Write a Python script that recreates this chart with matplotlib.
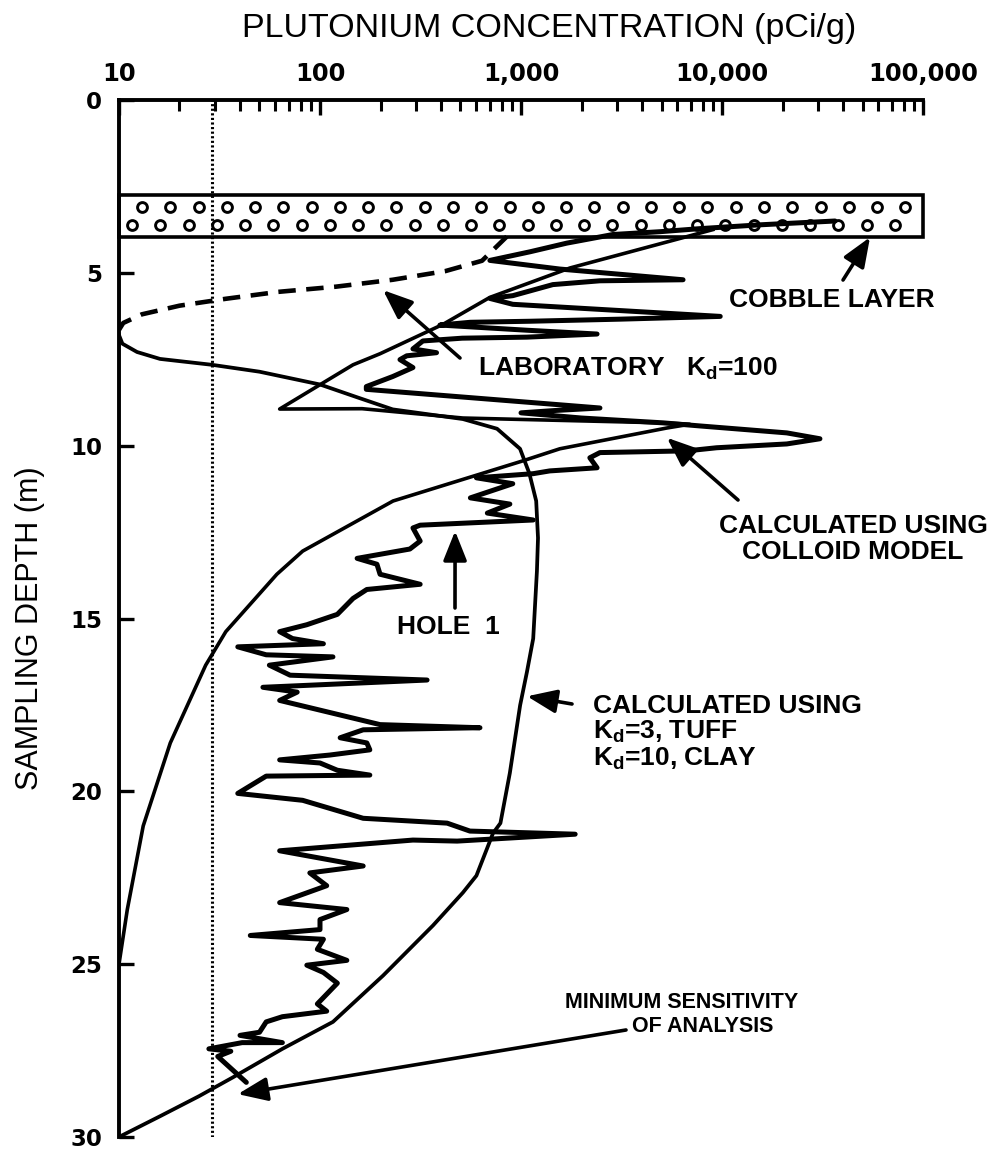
import matplotlib
matplotlib.use("Agg")
import matplotlib.pyplot as plt
import numpy as np
from matplotlib.patches import Rectangle
from matplotlib.ticker import NullFormatter, LogLocator

plt.rcParams['font.family'] = ['Liberation Sans', 'DejaVu Sans']
plt.rcParams['mathtext.default'] = 'regular'

# ---------------- data ----------------
XTICKS = [10, 100, 1000, 10000, 100000]
XTICK_LABELS = ["10", "100", "1,000", "10,000", "100,000"]
YTICKS = [0, 5, 10, 15, 20, 25, 30]
YTICK_LABELS = ["0", "5", "10", "15", "20", "25", "30"]

# Hole 1 measured profile
HOLE1_CONC = [36500, 15500, 7800, 4900, 2870, 1690, 1110, 700, 1560, 6400,
              2470, 1440, 910, 700, 910, 3100, 9800, 3100, 1110, 560,
              395, 1070, 2390, 1070, 510, 325, 290, 380, 270, 250,
              290, 230, 170, 170, 620, 2470, 1500, 1000, 2000, 5100,
              7800, 21000, 30700, 21000, 9400, 6700, 2470, 2200, 2390, 1390,
              1150, 600, 910, 560, 880, 680, 1150, 315, 290, 315,
              280, 153, 192, 199, 315, 171, 146, 122, 86, 63,
              73, 104, 39, 54, 116, 56, 71, 341, 52, 77,
              63, 112, 199, 625, 164, 126, 171, 177, 112, 63,
              100, 122, 177, 54, 39, 82, 164, 429, 557, 1860,
              481, 290, 63, 164, 89, 108, 63, 136, 100, 100,
              45, 104, 97, 136, 86, 104, 122, 97, 108, 65,
              54, 50, 40, 65, 41, 28, 36, 31, 43]
HOLE1_DEPTH = [3.50, 3.61, 3.72, 3.81, 3.89, 4.14, 4.39, 4.64, 4.89, 5.20,
               5.23, 5.34, 5.66, 5.74, 5.91, 6.09, 6.26, 6.34, 6.40, 6.43,
               6.51, 6.66, 6.77, 6.86, 6.89, 6.97, 7.20, 7.31, 7.40, 7.51,
               7.74, 8.00, 8.29, 8.37, 8.63, 8.91, 8.98, 9.05, 9.20, 9.34,
               9.43, 9.63, 9.80, 9.95, 10.06, 10.15, 10.20, 10.35, 10.64, 10.73,
               10.81, 10.93, 11.10, 11.51, 11.69, 11.95, 12.15, 12.30, 12.38, 12.76,
               12.99, 13.26, 13.43, 13.72, 14.01, 14.16, 14.42, 14.88, 15.18, 15.38,
               15.58, 15.73, 15.82, 16.05, 16.11, 16.35, 16.64, 16.78, 16.99, 17.13,
               17.37, 17.72, 18.07, 18.16, 18.22, 18.45, 18.60, 18.80, 18.95, 19.09,
               19.18, 19.39, 19.53, 19.56, 20.06, 20.26, 20.78, 20.92, 21.15, 21.24,
               21.44, 21.41, 21.72, 22.16, 22.36, 22.73, 23.22, 23.42, 23.71, 24.00,
               24.17, 24.28, 24.57, 24.89, 25.03, 25.24, 25.55, 26.15, 26.36, 26.52,
               26.67, 26.97, 27.06, 27.27, 27.27, 27.45, 27.52, 27.67, 28.42]

# Calculated using colloid model
COLLOID_CONC = [9000, 1750, 700, 409, 199, 146, 63, 162, 514, 5085,
                6900, 5300, 1560, 1020, 231, 82, 61, 34, 27, 18,
                13.2, 11, 10]
COLLOID_DEPTH = [3.75, 4.86, 5.71, 6.49, 7.34, 7.66, 8.94, 8.93, 9.20, 9.34,
                 9.38, 9.49, 10.09, 10.44, 11.60, 13.05, 13.72, 15.38, 16.35, 18.60,
                 21.00, 23.42, 25.00]

# Calculated using Kd=3 (tuff), Kd=10 (clay)
KD_CONC = [10, 10.4, 12.3, 16, 29, 50, 100, 153, 230, 514,
           760, 989, 1100, 1190, 1215, 1200, 1150, 1070, 990, 880,
           790, 726, 600, 514, 365, 206, 116, 65, 37, 25, 16, 10]
KD_DEPTH = [6.80, 7.05, 7.29, 7.49, 7.66, 7.86, 8.23, 8.60, 8.95, 9.23,
            9.51, 10.09, 10.80, 11.60, 12.67, 13.63, 15.58, 16.55, 17.51, 19.47,
            20.92, 21.21, 22.44, 22.93, 23.88, 25.33, 26.67, 27.45, 28.27, 28.82, 29.40, 30.00]

# Laboratory Kd=100 (dashed)
LAB_CONC = [850, 640, 420, 230, 120, 62, 34, 20, 13, 10.5, 10]
LAB_DEPTH = [3.95, 4.65, 4.95, 5.20, 5.40, 5.55, 5.75, 5.95, 6.20, 6.45, 6.65]

MIN_SENSITIVITY = 29          # pCi/g
COBBLE_TOP, COBBLE_BOTTOM = 2.75, 3.95   # m
COBBLE_ROWS = [3.1, 3.62]

# ---------------- figure ----------------
fig = plt.figure(figsize=(9.94, 11.55), dpi=100)
ax = fig.add_axes([0.1197, 0.0156, 0.8089, 0.8978])
ax.set_xscale('log')
ax.set_xlim(10, 100000)
ax.set_ylim(30, 0)

for s in ['right', 'bottom']:
    ax.spines[s].set_visible(False)
for s in ['top', 'left']:
    ax.spines[s].set_linewidth(2.8)

ax.xaxis.tick_top()
ax.set_xticks(XTICKS, labels=XTICK_LABELS, fontfamily='DejaVu Sans',
              fontweight='bold', fontsize=17.5)
ax.xaxis.set_minor_locator(LogLocator(base=10, subs=np.arange(2, 10)))
ax.xaxis.set_minor_formatter(NullFormatter())
ax.tick_params(axis='x', which='major', direction='in', length=11, width=2.4,
               top=True, bottom=False, pad=10)
ax.tick_params(axis='x', which='minor', direction='in', length=8, width=2.2,
               top=True, bottom=False)
ax.set_yticks(YTICKS, labels=YTICK_LABELS, fontfamily='DejaVu Sans',
              fontweight='bold', fontsize=16.5)
ax.tick_params(axis='y', which='major', direction='in', length=11, width=2.4,
               left=True, right=False, pad=12)

# cobble layer
ax.add_patch(Rectangle((10, COBBLE_TOP), 100000 - 10, COBBLE_BOTTOM - COBBLE_TOP,
                       facecolor='white', edgecolor='black', lw=2.6, zorder=1,
                       clip_on=False))
ytr = ax.get_yaxis_transform()
row1 = np.linspace(0.0286, 0.978, 28)
row2 = np.linspace(0.0162, 0.965, 28)
for row, d in zip([row1, row2], COBBLE_ROWS):
    ax.scatter(row, [d] * len(row), s=50, marker='o', facecolor='white',
               edgecolor='black', lw=2.1, transform=ytr, zorder=1.5, clip_on=False)

# minimum sensitivity
ax.axvline(MIN_SENSITIVITY, color='black', lw=2.2, ls=(0, (0.7, 0.8)), zorder=2)

# curves
ax.plot(LAB_CONC, LAB_DEPTH, color='black', lw=3.3, ls=(0, (3.8, 2.3)), zorder=3)
ax.plot(KD_CONC, KD_DEPTH, color='black', lw=2.7, zorder=3,
        solid_joinstyle='round')
ax.plot(COLLOID_CONC, COLLOID_DEPTH, color='black', lw=2.6, zorder=3,
        solid_joinstyle='round')
ax.plot(HOLE1_CONC, HOLE1_DEPTH, color='black', lw=3.6, zorder=4,
        solid_joinstyle='round', solid_capstyle='round')

# ---------------- text ----------------
def fx(px):
    return (px - 119) / 804.0

def fy(py):
    return 1 - (py - 100) / 1037.0

LBL = 19
LW = 'bold'
arrow = dict(arrowstyle='-|>,head_length=0.75,head_width=0.3', color='black',
             lw=2.6, mutation_scale=24, shrinkA=0, shrinkB=0)

fig.text(549 / 994, 1 - 29 / 1155, 'PLUTONIUM CONCENTRATION (pCi/g)',
         ha='center', va='center', fontsize=24.5)
fig.text(30 / 994, 1 - 628 / 1155, 'SAMPLING DEPTH (m)', rotation=90,
         ha='center', va='center', fontsize=22)

ax.text(fx(832), fy(300), 'COBBLE LAYER', transform=ax.transAxes,
        ha='center', va='center', fontsize=LBL, fontweight=LW)
ax.annotate('', xy=(54500, 3.97), xytext=(fx(843), fy(280)),
            textcoords='axes fraction', arrowprops=arrow)

ax.text(fx(478), fy(369), r'LABORATORY   K$_{d}$=100', transform=ax.transAxes,
        ha='left', va='center', fontsize=LBL, fontweight=LW)
ax.annotate('', xy=(206, 5.5), xytext=(fx(460), fy(358)),
            textcoords='axes fraction', arrowprops=arrow)

ax.text(fx(853), fy(539), 'CALCULATED USING\nCOLLOID MODEL', transform=ax.transAxes,
        ha='center', va='center', fontsize=LBL, fontweight=LW, linespacing=1.1)
ax.annotate('', xy=(5320, 9.77), xytext=(fx(738), fy(500)),
            textcoords='axes fraction', arrowprops=arrow)

ax.text(fx(593), fy(733), 'CALCULATED USING\nK$_{d}$=3, TUFF\nK$_{d}$=10, CLAY',
        transform=ax.transAxes, ha='left', va='center', fontsize=LBL,
        fontweight=LW, linespacing=1.05)
ax.annotate('', xy=(1072, 17.25), xytext=(fx(572), fy(704)),
            textcoords='axes fraction', arrowprops=arrow)

ax.text(fx(448), fy(627), 'HOLE  1', transform=ax.transAxes,
        ha='center', va='center', fontsize=LBL, fontweight=LW)
ax.annotate('', xy=(470, 12.47), xytext=(fx(455), fy(608)),
            textcoords='axes fraction', arrowprops=arrow)

ax.text(fx(682), fy(1003), 'MINIMUM SENSITIVITY', transform=ax.transAxes,
        ha='center', va='center', fontsize=15.5, fontweight=LW)
ax.text(fx(632), fy(1027), 'OF ANALYSIS', transform=ax.transAxes,
        ha='left', va='center', fontsize=15.5, fontweight=LW)
ax.annotate('', xy=(39, 28.76), xytext=(fx(626), fy(1030)),
            textcoords='axes fraction', arrowprops=arrow)

fig.savefig('out.png', dpi=100, facecolor='white')
